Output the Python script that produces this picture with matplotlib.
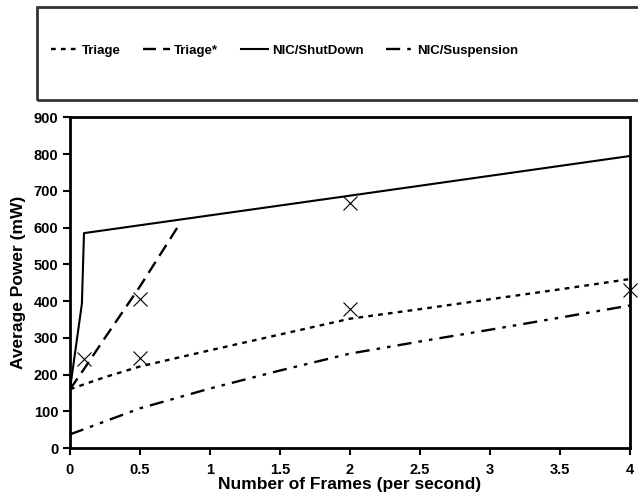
import matplotlib.pyplot as plt
from matplotlib.patches import Rectangle

plt.rcParams['font.family'] = ['Liberation Sans', 'DejaVu Sans']
plt.rcParams['font.weight'] = 'bold'

# curves
triage_x = [0, 0.25, 0.5, 1, 1.5, 2, 2.5, 3, 3.5, 4]
triage_y = [160, 193, 222, 266, 309, 352, 378, 405, 432, 460]

triage_star_x = [0, 0.1, 0.25, 0.5, 0.78]
triage_star_y = [160, 215, 300, 440, 608]

shutdown_x = [0, 0.085, 0.1, 2, 4]
shutdown_y = [160, 393, 585, 687, 795]

suspension_x = [0, 0.5, 1, 1.5, 2, 2.5, 3, 3.5, 4]
suspension_y = [37, 108, 162, 211, 257, 290, 322, 355, 388]

# measured points (x markers)
meas_x = [0.1, 0.5, 0.5, 2, 2, 4]
meas_y = [242, 245, 407, 378, 667, 429]

fig = plt.figure(figsize=(6.38, 4.99), dpi=100)
ax = fig.add_axes([0.1097, 0.1022, 0.8778, 0.6625])

l1, = ax.plot(triage_x, triage_y, color='black', lw=1.7, linestyle=(0, (2, 2.2)), label='Triage')
l2, = ax.plot(triage_star_x, triage_star_y, color='black', lw=1.7, linestyle=(0, (5.5, 3)), label='Triage*')
l3, = ax.plot(shutdown_x, shutdown_y, color='black', lw=1.5, linestyle='-', label='NIC/ShutDown')
l4, = ax.plot(suspension_x, suspension_y, color='black', lw=1.7,
              linestyle=(0, (6, 3, 1.5, 3, 1.5, 3)), label='NIC/Suspension')
ax.plot(meas_x, meas_y, linestyle='none', marker='x', color='black', ms=10, mew=0.8, clip_on=False)

ax.set_xlim(0, 4)
ax.set_ylim(0, 900)
ax.set_xticks([0, 0.5, 1, 1.5, 2, 2.5, 3, 3.5, 4])
ax.set_xticklabels(['0', '0.5', '1', '1.5', '2', '2.5', '3', '3.5', '4'])
ax.set_yticks(range(0, 901, 100))
ax.tick_params(direction='out', length=5, width=1.5, labelsize=10.5)
ax.tick_params(axis='x', pad=6)
for lab in ax.get_xticklabels() + ax.get_yticklabels():
    lab.set_fontweight('bold')
for s in ax.spines.values():
    s.set_linewidth(2)

ax.set_xlabel('Number of Frames (per second)', fontsize=12.5, fontweight='bold', labelpad=0)
ax.set_ylabel('Average Power (mW)', fontsize=12.5, fontweight='bold', labelpad=5)

# legend box (runs off the right edge in the original)
fig.patches.append(Rectangle((37 / 638, 1 - 100 / 499), 620 / 638, 93 / 499,
                             transform=fig.transFigure, fill=False,
                             edgecolor='#333333', linewidth=2))
fig.legend(handles=[l1, l2, l3, l4], loc='center left', bbox_to_anchor=(51 / 638, 1 - 51 / 499),
           ncol=4, frameon=False, handlelength=2.05, handletextpad=0.3,
           columnspacing=1.7, borderpad=0, borderaxespad=0,
           prop={'weight': 'bold', 'size': 9.5})

fig.savefig('out.png', dpi=100)
